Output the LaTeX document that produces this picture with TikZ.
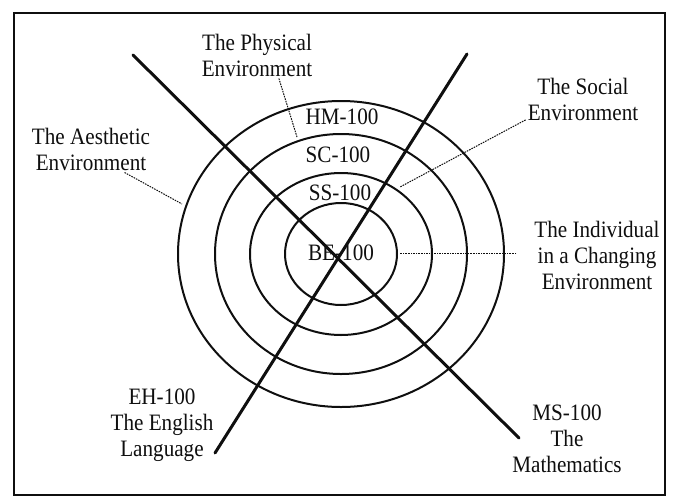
\documentclass[tikz,border=0pt]{standalone}
\usepackage{fontspec}
\setmainfont{Liberation Serif}[FakeStretch=0.9]
\usepackage{tikz}
\usetikzlibrary{calc}
\definecolor{InkBlack}{RGB}{15,15,15}

\begin{document}
\begin{tikzpicture}[x=1pt,y=-1pt,
  ring/.style={line width=2pt,InkBlack},
  spoke/.style={line width=3pt,InkBlack,line cap=round},
  leader/.style={line width=1pt,InkBlack,dash pattern=on 1.6pt off 1pt},
  tag/.style={font=\fontsize{23.5}{26}\selectfont,text=InkBlack,align=center,inner sep=2pt}]
  \useasboundingbox (0,0) rectangle (677,498);
  \draw[line width=2.4pt,InkBlack] (14,13) rectangle (665,495);
  % the four rings
  \coordinate (C) at (341,254);
  \draw[ring] (C) ellipse [x radius=56pt,y radius=51pt];
  \draw[ring] (C) ellipse [x radius=91pt,y radius=81pt];
  \draw[ring] (C) ellipse [x radius=126pt,y radius=120pt];
  \draw[ring] (C) ellipse [x radius=163pt,y radius=153pt];
  % course codes in the rings
  \node[tag] (hm) at (342,117) {HM-100};
  \node[tag] (sc) at (338,155) {SC-100};
  \node[tag] (ss) at (340,193) {SS-100};
  \node[tag] (be) at (341,253) {BE-100};
  % the two crossing spokes
  \coordinate (mathTop) at (133,55);
  \coordinate (mathEnd) at (519,438);
  \coordinate (engTop) at (467,54);
  \coordinate (engEnd) at (215,453);
  \draw[spoke] (mathTop)--(mathEnd);
  \draw[spoke] (engTop)--(engEnd);
  % outer labels
  \node[tag] (phys) at (257,55) {The Physical\\Environment};
  \node[tag] (soc) at (583,99) {The Social\\Environment};
  \node[tag] (aes) at (91,149) {The Aesthetic\\Environment};
  \node[tag] (indiv) at (597,255) {The Individual\\in a Changing\\Environment};
  \node[tag] (eng) at (162,425) {EH-100\\The English\\Language};
  \node[tag] (math) at (567,439) {MS-100\\The\\Mathematics};
  % dotted leaders to the rings
  \coordinate (physOn) at (297,137);
  \coordinate (socOn) at (400,187);
  \coordinate (aesOn) at (182,204);
  \coordinate (indivOn) at (400,253);
  \coordinate (indivLead) at ($(indiv.west)+(-16,-2)$);
  \draw[leader] (phys.-47)--(physOn);
  \draw[leader] (soc.200)--(socOn);
  \draw[leader] (aes.-35)--(aesOn);
  \draw[leader] (indivLead)--(indivOn);
\end{tikzpicture}
\end{document}
